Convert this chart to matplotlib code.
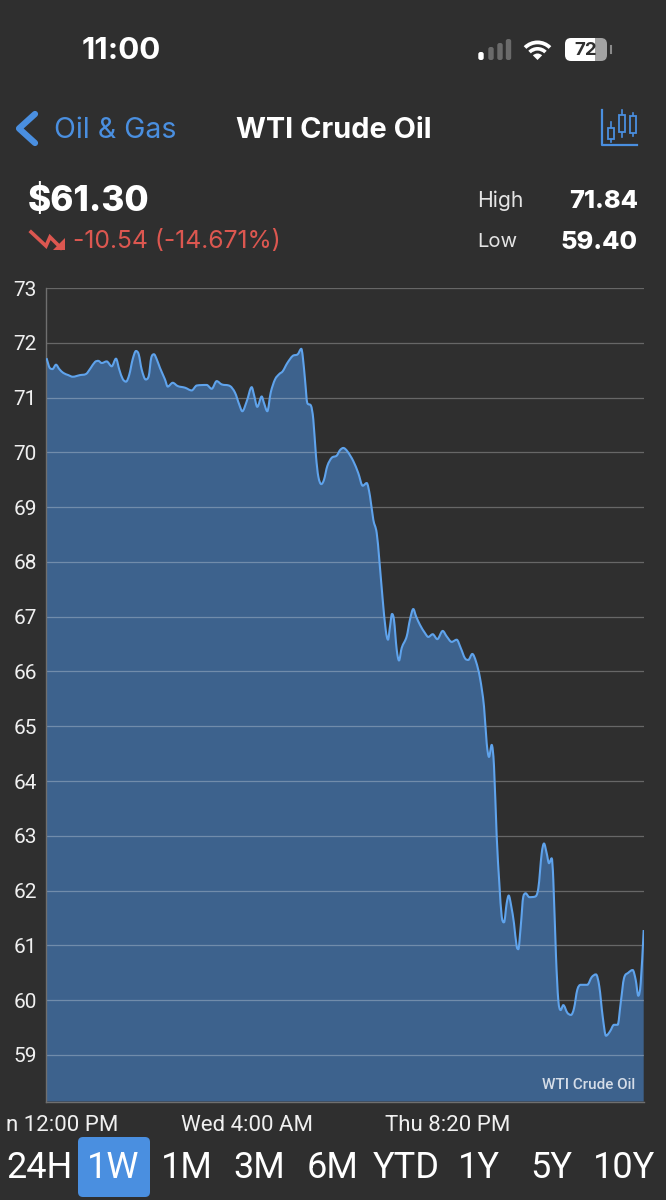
import matplotlib
matplotlib.use("Agg")
import matplotlib.pyplot as plt
import numpy as np
from matplotlib.patches import FancyBboxPatch, PathPatch, Polygon, Rectangle, Wedge
from matplotlib.path import Path

# ─── Data ─────────────────────────────────────────────────────────────────────
# x runs left to right across the plot area, 0-598

x_left = [
    0, 3.3, 6, 9.5, 12.8, 16.8, 21.8, 26.2, 33.5, 39.5, 44.2, 48.5, 51.8, 55.2, 60.2,
    65.2, 69.5, 72.8, 76.2, 79.5, 82.8, 86.2, 89.5, 92.2, 95.2, 99.2, 102.2, 104.8,
    107.5, 110.2, 113.5, 118.5, 121.2, 126.2, 131.2, 138.5, 145.2, 150.2, 160.2, 165.2,
    170.2, 175.2, 183.5, 188.5, 192.8, 195.8, 200.2, 205.2, 207.5, 210.8, 215.2, 217.5,
    220.8, 224.2, 228.5, 232.8, 236.2, 240.8, 246.2, 251.2, 254.8,
]
price_left = [
    71.72, 71.54, 71.52, 71.60, 71.52, 71.45, 71.41, 71.38, 71.41, 71.43, 71.54, 71.65,
    71.67, 71.63, 71.66, 71.57, 71.71, 71.51, 71.34, 71.29, 71.42, 71.70, 71.85, 71.79,
    71.51, 71.33, 71.39, 71.73, 71.79, 71.70, 71.54, 71.33, 71.20, 71.27, 71.21, 71.18,
    71.13, 71.22, 71.23, 71.16, 71.30, 71.24, 71.21, 71.09, 70.87, 70.75, 70.93, 71.19,
    71.05, 70.83, 71.02, 70.90, 70.75, 71.09, 71.33, 71.43, 71.48, 71.63, 71.76, 71.79,
    71.89,
]

x_mid = [
    256.2, 258.5, 260.8, 264.5, 266.8, 269.5, 271.8, 274.8, 277.5, 280.8, 285.2, 290.2,
    293.5, 296.8, 300.8, 306.8, 311.8, 316.2, 320.2, 323.5, 326.8, 330.2, 332.8, 336.2,
    339.2, 341.5, 343.5, 345.5, 347.5, 350.2, 352.5, 355.2, 360.2, 363.5, 366.8, 369.5,
    373.5, 378.5, 381.8, 386.2, 390.8, 396.2, 400.2, 405.2, 410.2, 414.2, 418.5, 421.8,
    425.8, 429.5, 433.5,
]
price_mid = [
    71.76, 71.33, 70.90, 70.85, 70.60, 69.93, 69.56, 69.42, 69.50, 69.75, 69.90, 69.94,
    70.04, 70.08, 70.02, 69.84, 69.62, 69.39, 69.44, 69.20, 68.77, 68.53, 68.04, 67.31,
    66.76, 66.58, 66.82, 67.05, 66.94, 66.40, 66.20, 66.43, 66.64, 66.95, 67.14, 67.01,
    66.85, 66.70, 66.63, 66.68, 66.59, 66.74, 66.64, 66.54, 66.58, 66.43, 66.24, 66.21,
    66.32, 66.18, 65.88,
]

x_right = [
    437.5, 440.2, 442.5, 445.2, 447.5, 450.2, 452.8, 455.2, 457.5, 460.2, 462.2, 464.8,
    467.5, 470.2, 471.8, 474.2, 476.8, 479.2, 482.8, 488.5, 491.8, 495.2, 497.5, 500.2,
    502.5, 505.2, 506.8, 509.5, 511.8, 514.2, 516.8, 520.8, 524.5, 527.5, 530.8, 534.2,
    540.8, 545.2, 549.5, 552.8, 556.2, 559.5, 563.5, 567.5, 571.2, 574.2, 577.5, 581.8,
    586.2, 589.2, 591.8, 594.2, 597.2,
]
price_right = [
    65.36, 64.69, 64.44, 64.66, 64.27, 62.99, 62.14, 61.53, 61.42, 61.77, 61.91, 61.71,
    61.40, 60.98, 60.93, 61.34, 61.89, 61.95, 61.88, 61.89, 62.04, 62.68, 62.86, 62.68,
    62.50, 62.59, 62.20, 60.80, 60.00, 59.82, 59.91, 59.77, 59.73, 59.85, 60.19, 60.28,
    60.28, 60.42, 60.47, 60.25, 59.70, 59.35, 59.43, 59.55, 59.55, 59.95, 60.40, 60.50,
    60.55, 60.37, 60.08, 60.31, 61.28,
]

y_ticks = [59, 60, 61, 62, 63, 64, 65, 66, 67, 68, 69, 70, 71, 72, 73]
x_tick_pos = [15.5, 200.5, 401.5]
# first label is cut by the screen edge in the screenshot, only this much of it shows
x_tick_labels = ["n 12:00 PM", "Wed 4:00 AM", "Thu 8:20 PM"]
ranges = ["24H", "1W", "1M", "3M", "6M", "YTD", "1Y", "5Y", "10Y"]
range_centres = [40, 113, 187, 259.5, 333, 406, 478.5, 551.5, 624.5]

BG = "#2f2f2f"
BLUE = "#4a8fe0"
LINE = "#5fa3ec"
FILL = "#3d628d"
RED = "#dc5750"
FONT = "Inter"
Y_FLOOR = 58.15


# ─── Spline through the samples ───────────────────────────────────────────────
# Bezier segments with monotone tangents, the app draws a smooth line too.

def spline_path(xs, ys):
    xs = np.asarray(xs, dtype=float)
    ys = np.asarray(ys, dtype=float)
    slopes = np.diff(ys) / np.diff(xs)
    tang = np.zeros(len(xs))
    tang[0], tang[-1] = slopes[0], slopes[-1]
    for i in range(1, len(xs) - 1):
        if slopes[i - 1] * slopes[i] > 0:
            limit = 3 * min(abs(slopes[i - 1]), abs(slopes[i]))
            mean = (ys[i + 1] - ys[i - 1]) / (xs[i + 1] - xs[i - 1])
            tang[i] = np.sign(mean) * min(abs(mean), limit)
    verts = [(xs[0], ys[0])]
    codes = [Path.MOVETO]
    for i in range(len(xs) - 1):
        dx = (xs[i + 1] - xs[i]) / 3
        verts += [(xs[i] + dx, ys[i] + tang[i] * dx),
                  (xs[i + 1] - dx, ys[i + 1] - tang[i + 1] * dx),
                  (xs[i + 1], ys[i + 1])]
        codes += [Path.CURVE4] * 3
    return verts, codes


x_vals = x_left + x_mid + x_right
price_vals = price_left + price_mid + price_right

fig = plt.figure(figsize=(6.66, 12), dpi=100, facecolor=BG)

# ─── Chart ────────────────────────────────────────────────────────────────────
ax = fig.add_axes([46.5 / 666, 1 - 1101.5 / 1200, (644 - 46.5) / 666, (1101.5 - 288) / 1200])
ax.set_facecolor(BG)
ax.set_xlim(0, 597.5)
ax.set_ylim(Y_FLOOR, 73)

verts, codes = spline_path(x_vals, price_vals)
area = Path(verts + [(x_vals[-1], Y_FLOOR), (x_vals[0], Y_FLOOR), verts[0]],
            codes + [Path.LINETO, Path.LINETO, Path.CLOSEPOLY])
ax.add_patch(PathPatch(area, fc=FILL, ec="none", zorder=1))
ax.add_patch(PathPatch(Path(verts, codes), fc="none", ec=LINE, lw=1.5, zorder=3, joinstyle="round"))

for tick in y_ticks:
    ax.axhline(tick, color="white", alpha=0.27, lw=0.9, zorder=2)

for side in ["top", "right"]:
    ax.spines[side].set_visible(False)
for side in ["left", "bottom"]:
    ax.spines[side].set_color("#6f6f6f")
    ax.spines[side].set_linewidth(1)

ax.set_yticks(y_ticks)
ax.set_yticklabels([str(t) for t in y_ticks], fontsize=15, color="#f0f0f0", family="Roboto")
ax.tick_params(axis="y", length=0, pad=7)
ax.set_xticks(x_tick_pos)
ax.set_xticklabels(x_tick_labels, fontsize=16, color="#f0f0f0", family="Roboto")
ax.tick_params(axis="x", length=0, pad=10)
ax.text(0.985, 0.0203, "WTI Crude Oil", transform=ax.transAxes, ha="right", va="center",
        fontsize=11, color="#d5dde8", family="Roboto", fontweight="medium")

# ─── Phone chrome, drawn in pixel coordinates ─────────────────────────────────
ui = fig.add_axes([0, 0, 1, 1], facecolor="none")
ui.set_xlim(0, 666)
ui.set_ylim(1200, 0)
ui.axis("off")


def label(x, y, s, size, color="white", weight="normal", ha="left", family=FONT):
    ui.text(x, y, s, fontsize=size, color=color, fontweight=weight, ha=ha, va="center", family=family)


label(121.5, 51, "11:00", 22.5, weight="bold", ha="center")

# signal bars
for bx, top, col in [(481, 52, "#ffffff"), (491, 47, "#6a6a6a"), (500, 43, "#6a6a6a"), (508.5, 39, "#6a6a6a")]:
    ui.add_patch(FancyBboxPatch((bx - 2.7, top), 5.4, 60 - top, boxstyle="round,pad=0,rounding_size=2.2", fc=col, ec="none"))

# wifi
for r, w in [(19.5, 3.8), (13, 3.6), (6.5, 6.5)]:
    ui.add_patch(Wedge((537.5, 60), r, 225, 315, width=w, fc="white", ec="none"))

# battery
ui.add_patch(FancyBboxPatch((585, 38), 22, 23, boxstyle="round,pad=0,rounding_size=6", fc="#a3a3a3", ec="none"))
ui.add_patch(FancyBboxPatch((565, 38), 30, 23, boxstyle="round,pad=0,rounding_size=6", fc="white", ec="none"))
ui.add_patch(Rectangle((589, 38), 6, 23, fc="white", ec="none"))
ui.plot([610.5, 610.5], [46, 53], color="#8a8a8a", lw=1.5)
label(585.5, 50.5, "72", 13.5, color="#2f2f2f", weight="bold", ha="center")

# nav bar
ui.plot([35, 19, 35], [114, 128.5, 143], color=BLUE, lw=4.5, solid_capstyle="round", solid_joinstyle="round")
label(54.5, 130, "Oil & Gas", 20.5, color=BLUE)
label(333.5, 130, "WTI Crude Oil", 20.8, weight="bold", ha="center")

# candlestick button
ui.plot([602, 602, 636.5], [110, 144.5, 144.5], color=BLUE, lw=1.6)
for cx, y0, y1, b0, b1 in [(610.5, 122, 142, 128, 139), (621.5, 110, 137, 115, 132), (633, 113, 136, 116, 133)]:
    ui.plot([cx, cx], [y0, y1], color=BLUE, lw=1.2)
    ui.add_patch(Rectangle((cx - 3, b0), 6, b1 - b0, fc=BG, ec=BLUE, lw=1.3, zorder=3))

# quote block
label(28, 201, "$61.30", 25.3, weight="heavy")
ui.plot([31, 46, 50, 61], [232, 246, 237, 248], color=RED, lw=2.6, solid_joinstyle="miter")
ui.add_patch(Polygon([(65, 250), (65, 238), (53, 250)], fc=RED, ec="none"))
label(73, 241.5, "-10.54 (-14.671%)", 17.8, color=RED)
label(477, 200.5, "High", 15.2, color="#e4e4e4")
label(477, 242, "Low", 14.6, color="#e4e4e4")
label(638, 201, "71.84", 18.2, weight="heavy", ha="right")
label(638, 242.5, "59.40", 18.2, weight="heavy", ha="right")

# range buttons
ui.add_patch(FancyBboxPatch((78, 1137), 72, 60, boxstyle="round,pad=0,rounding_size=5", fc=BLUE, ec="none"))
for name, cx in zip(ranges, range_centres):
    label(cx, 1168, name, 26, ha="center", family="Roboto")

fig.savefig("out.png", dpi=100, facecolor=BG)
